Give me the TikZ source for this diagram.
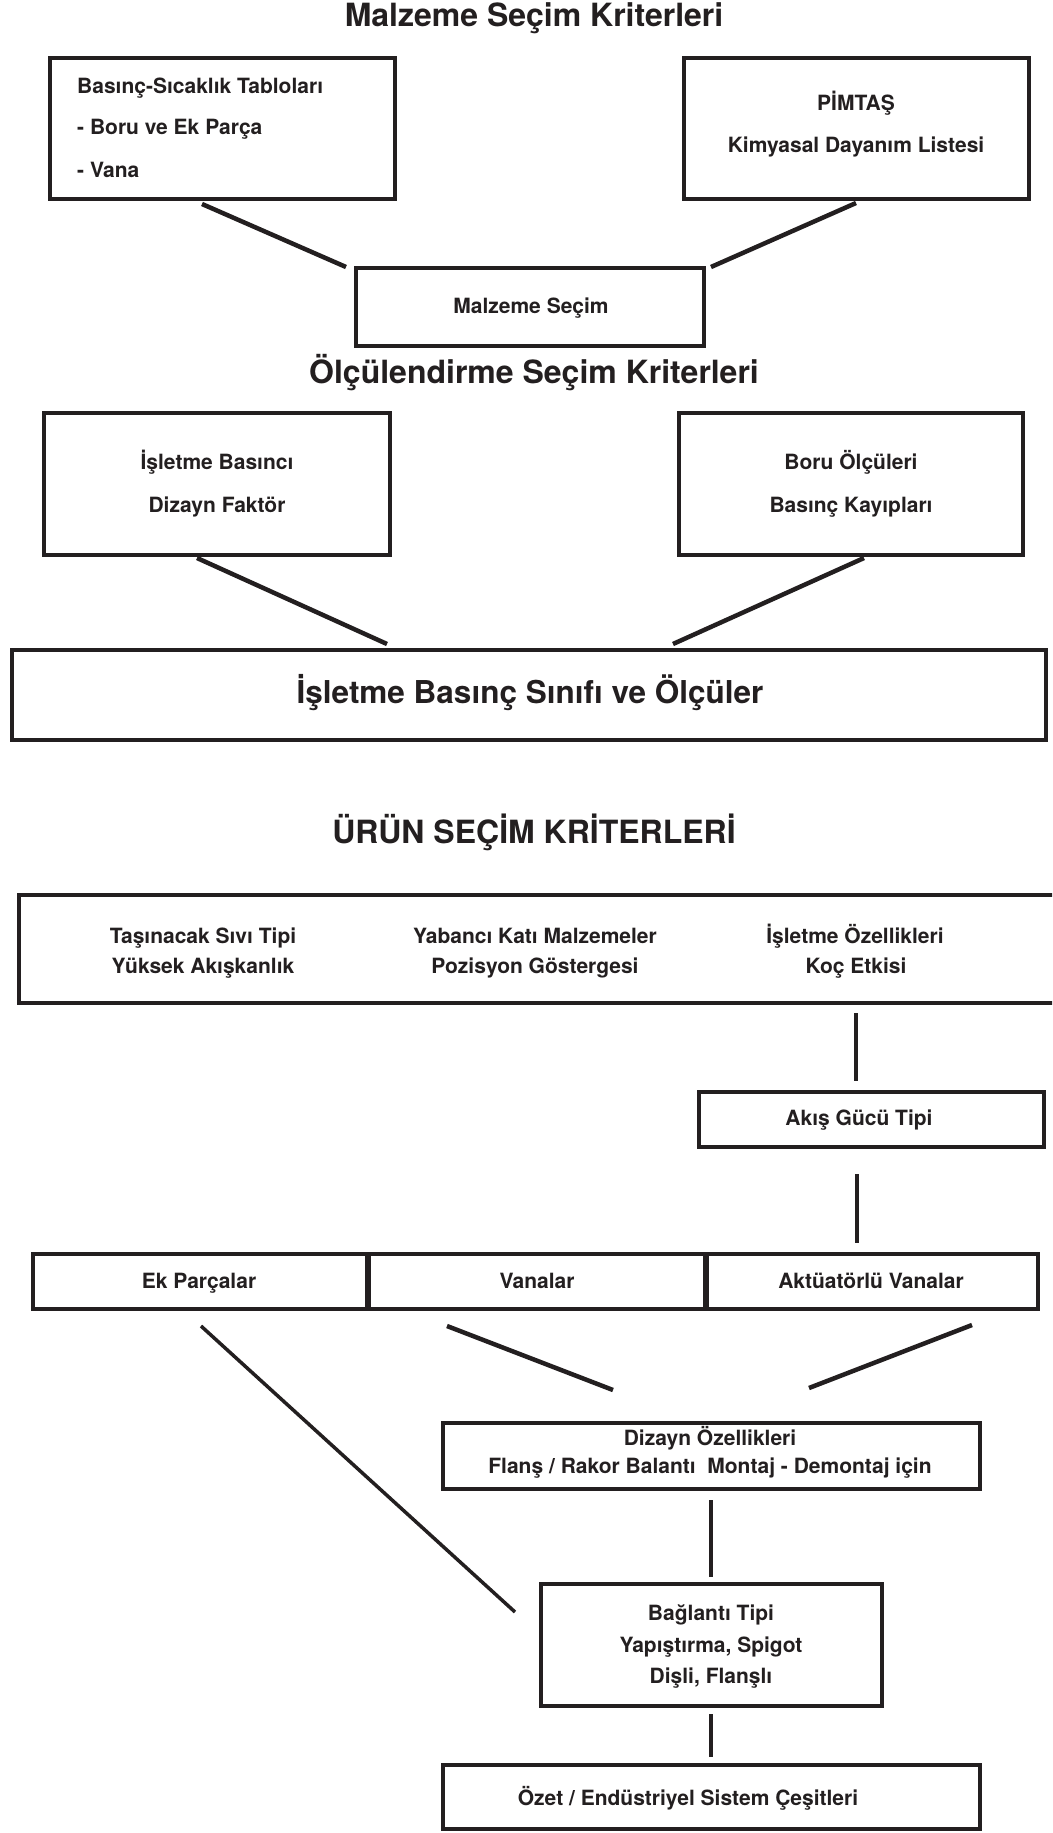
\documentclass[tikz,border=0pt]{standalone}
\usepackage{fontspec}
\setmainfont{TeX Gyre Heros}
\definecolor{ink}{RGB}{35,31,32}
\begin{document}
\begin{tikzpicture}[x=1pt,y=-1pt,
  box/.style={draw=ink, line width=4pt, inner sep=0pt, rectangle},
  txt/.style={text=ink, font=\bfseries\fontsize{21}{25}\selectfont, inner sep=0pt, anchor=base},
  ttl/.style={text=ink, font=\bfseries\fontsize{32}{38}\selectfont, inner sep=0pt, anchor=base},
  link/.style={draw=ink, line width=4.5pt},
  thinlink/.style={draw=ink, line width=3.5pt}]
\useasboundingbox (0,0) rectangle (1052,1833);
\clip (0,0) rectangle (1052,1833);
\fill[white] (0,0) rectangle (1052,1833);

% titles
\node[ttl] (t1) at (534,27) {Malzeme Seçim Kriterleri};
\node[ttl] (t2) at (534,383) {Ölçülendirme Seçim Kriterleri};
\node[ttl] (t3) at (534,843) {ÜRÜN SEÇİM KRİTERLERİ};

% boxes
\node[box, minimum width=345, minimum height=141] (A) at (222.5,128.5) {};
\node[box, minimum width=345, minimum height=141] (B) at (856.5,128.5) {};
\node[box, minimum width=348, minimum height=78] (MS) at (530,307) {};
\node[box, minimum width=346, minimum height=142] (C) at (217,484) {};
\node[box, minimum width=344, minimum height=142] (D) at (851,484) {};
\node[box, minimum width=1034, minimum height=90] (E) at (529,695) {};
\node[box, minimum width=1049, minimum height=108] (F) at (543.5,949) {};
\node[box, minimum width=345, minimum height=55] (AK) at (871.5,1119.5) {};
\node[box, minimum width=334, minimum height=55] (R1) at (200,1281.5) {};
\node[box, minimum width=336, minimum height=55] (R2) at (537,1281.5) {};
\node[box, minimum width=331, minimum height=55] (R3) at (872.5,1281.5) {};
\node[box, minimum width=537, minimum height=66] (DZ) at (711.5,1456) {};
\node[box, minimum width=341, minimum height=122] (BG) at (711.5,1645) {};
\node[box, minimum width=537, minimum height=64] (OZ) at (711.5,1797) {};

% texts
\node[txt, anchor=base west] (a1) at (77,94) {Basınç-Sıcaklık Tabloları};
\node[txt, anchor=base west] (a2) at (77,135) {- Boru ve Ek Parça};
\node[txt, anchor=base west] (a3) at (77,177) {- Vana};
\node[txt] (b1) at (856,111) {PİMTAŞ};
\node[txt] (b2) at (856,153) {Kimyasal Dayanım Listesi};
\node[txt] (ms1) at (531,313) {Malzeme Seçim};
\node[txt] (c1) at (217,469) {İşletme Basıncı};
\node[txt] (c2) at (217,512) {Dizayn Faktör};
\node[txt] (d1) at (851,469) {Boru Ölçüleri};
\node[txt] (d2) at (851,512) {Basınç Kayıpları};
\node[txt, font=\bfseries\fontsize{31.5}{36}\selectfont] (e1) at (530,703) {İşletme Basınç Sınıfı ve Ölçüler};
\node[txt] (f1) at (203,943) {Taşınacak Sıvı Tipi};
\node[txt] (f2) at (203,973) {Yüksek Akışkanlık};
\node[txt] (f3) at (535,943) {Yabancı Katı Malzemeler};
\node[txt] (f4) at (535,973) {Pozisyon Göstergesi};
\node[txt] (f5) at (855,943) {İşletme Özellikleri};
\node[txt] (f6) at (856,973) {Koç Etkisi};
\node[txt] (ak1) at (859,1125) {Akış Gücü Tipi};
\node[txt] (r1) at (199,1288) {Ek Parçalar};
\node[txt] (r2) at (537,1288) {Vanalar};
\node[txt] (r3) at (871,1288) {Aktüatörlü Vanalar};
\node[txt] (dz1) at (710,1445) {Dizayn Özellikleri};
\node[txt] (dz2) at (710,1473) {Flanş / Rakor Balantı\ \ Montaj - Demontaj için};
\node[txt] (bg1) at (711,1620) {Bağlantı Tipi};
\node[txt] (bg2) at (711,1652) {Yapıştırma, Spigot};
\node[txt] (bg3) at (711,1683) {Dişli, Flanşlı};
\node[txt] (oz1) at (688,1805) {Özet / Endüstriyel Sistem Çeşitleri};

% connector end points
\coordinate (k1a) at (202,204);  \coordinate (k1b) at (346,267);
\coordinate (k2a) at (856,203);  \coordinate (k2b) at (711,267);
\coordinate (k3a) at (197,558);  \coordinate (k3b) at (387,644);
\coordinate (k4a) at (864,558);  \coordinate (k4b) at (673,644);
\coordinate (k5a) at (856,1013); \coordinate (k5b) at (856,1081);
\coordinate (k6a) at (857,1174); \coordinate (k6b) at (857,1243);
\coordinate (k7a) at (201,1326); \coordinate (k7b) at (515,1612);
\coordinate (k8a) at (447,1326); \coordinate (k8b) at (613,1390);
\coordinate (k9a) at (972,1325); \coordinate (k9b) at (809,1388);
\coordinate (k10a) at (711,1500); \coordinate (k10b) at (711,1577);
\coordinate (k11a) at (711,1714); \coordinate (k11b) at (711,1757);

\draw[link] (k1a) -- (k1b);
\draw[link] (k2a) -- (k2b);
\draw[link] (k3a) -- (k3b);
\draw[link] (k4a) -- (k4b);
\draw[link] (k5a) -- (k5b);
\draw[link] (k6a) -- (k6b);
\draw[thinlink] (k7a) -- (k7b);
\draw[link] (k8a) -- (k8b);
\draw[link] (k9a) -- (k9b);
\draw[link] (k10a) -- (k10b);
\draw[link] (k11a) -- (k11b);
\end{tikzpicture}
\end{document}
